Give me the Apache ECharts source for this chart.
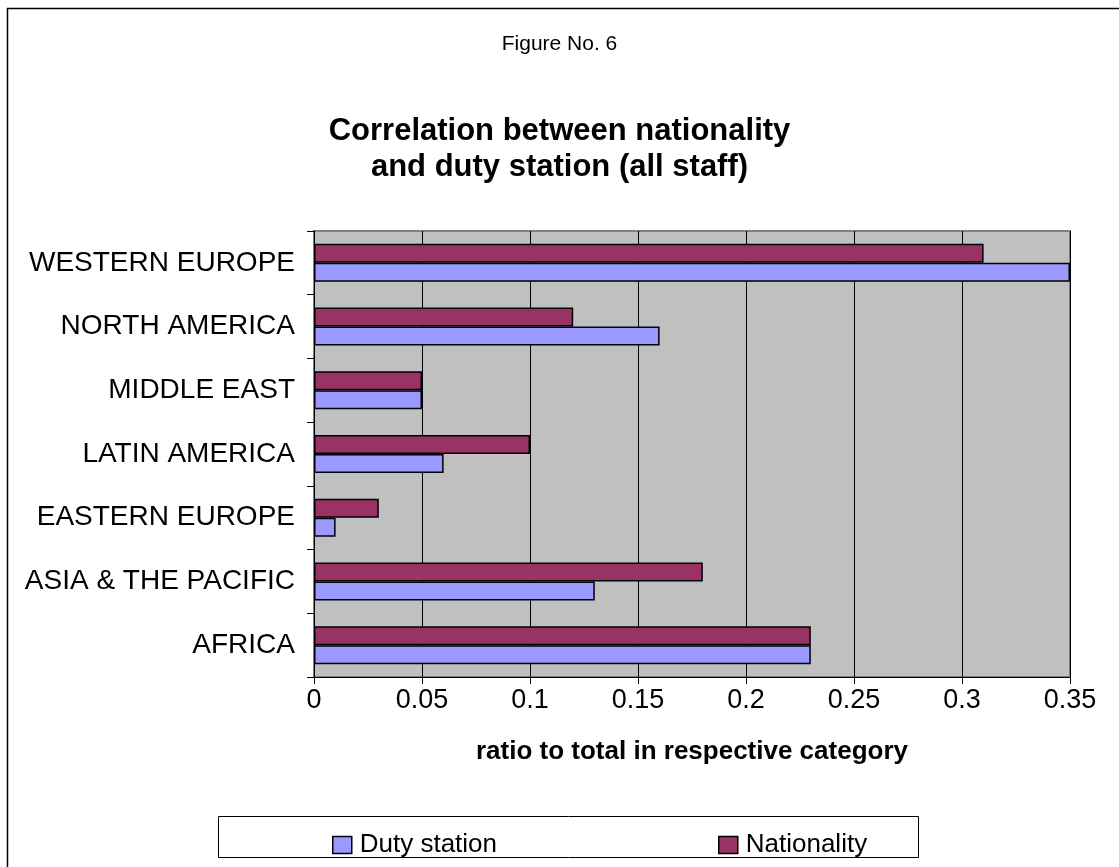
<!DOCTYPE html>
<html><head><meta charset="utf-8">
<script src="https://cdn.jsdelivr.net/npm/echarts@6/dist/echarts.min.js"></script>
<style>html,body{margin:0;padding:0;background:#fff}#c{width:1119px;height:867px}</style>
</head><body><div id="c"></div>
<script>
const categories = ['AFRICA','ASIA & THE PACIFIC','EASTERN EUROPE','LATIN AMERICA','MIDDLE EAST','NORTH AMERICA','WESTERN EUROPE'];
const dutyStation = [0.23, 0.13, 0.01, 0.06, 0.05, 0.16, 0.35];
const nationality = [0.23, 0.18, 0.03, 0.10, 0.05, 0.12, 0.31];
const xTicks = [0, 0.05, 0.1, 0.15, 0.2, 0.25, 0.3, 0.35];

const chart = echarts.init(document.getElementById('c'), null, {renderer:'canvas'});
const F = 'Liberation Sans, Arial, sans-serif';
chart.setOption({
  animation:false,
  backgroundColor:'#fff',
  title:[
    {text:'Figure No. 6', left:'center', top:29, textStyle:{fontFamily:F, fontSize:21, fontWeight:'normal', color:'#000'}},
    {text:'Correlation between nationality\nand duty station (all staff)', left:'center', top:108,
     textStyle:{fontFamily:F, fontSize:31, fontWeight:'bold', color:'#000', lineHeight:36}}
  ],
  graphic:[
    {type:'rect', shape:{x:7.5,y:8.5,width:1200,height:1000}, style:{fill:'none', stroke:'#000', lineWidth:1.5}, silent:true},
    {type:'rect', shape:{x:218.5,y:816.5,width:700,height:41}, style:{fill:'#fff', stroke:'#000', lineWidth:1}, silent:true, z:-1}
  ],
  legend:[
    {left:327, top:827, itemWidth:19, itemHeight:17, icon:'rect',
     textStyle:{fontFamily:F, fontSize:26, color:'#000', padding:[0,0,0,3]},
     itemStyle:{borderColor:'#000', borderWidth:1.5},
     data:['Duty station']},
    {left:713, top:827, itemWidth:19, itemHeight:17, icon:'rect',
     textStyle:{fontFamily:F, fontSize:26, color:'#000', padding:[0,0,0,3]},
     itemStyle:{borderColor:'#000', borderWidth:1.5},
     data:['Nationality']}
  ],
  grid:{left:314, right:49, top:231, bottom:190, show:true, backgroundColor:'#C0C0C0', borderColor:'#808080', borderWidth:2},
  xAxis:{
    type:'value', min:0, max:0.35, interval:0.05,
    name:'ratio to total in respective category', nameLocation:'middle', nameGap:62,
    nameTextStyle:{fontFamily:F, fontSize:26, fontWeight:'bold', color:'#000'},
    axisLine:{show:true, lineStyle:{color:'#000', width:1}},
    axisTick:{show:true, length:7, lineStyle:{color:'#000'}},
    axisLabel:{fontFamily:F, fontSize:27, color:'#000', margin:10,
      formatter:function(v){ for (const t of xTicks){ if (Math.abs(t-v)<1e-9) return String(t);} return ''; }},
    splitLine:{show:true, lineStyle:{color:'#000', width:1}}
  },
  yAxis:{
    type:'category', data:categories,
    axisLine:{show:true, lineStyle:{color:'#000', width:1}},
    axisTick:{show:true, length:7, lineStyle:{color:'#000'}},
    axisLabel:{fontFamily:F, fontSize:28, color:'#000', margin:19},
    splitLine:{show:false}
  },
  series:[
    {name:'Nationality', type:'bar', data:nationality, barWidth:19, barGap:'0%', barCategoryGap:'40%',
     itemStyle:{color:'#993366', borderColor:'#000', borderWidth:1.5}},
    {name:'Duty station', type:'bar', data:dutyStation, barWidth:19, barGap:'0%',
     itemStyle:{color:'#9999FF', borderColor:'#000', borderWidth:1.5}}
  ]
});
</script></body></html>
